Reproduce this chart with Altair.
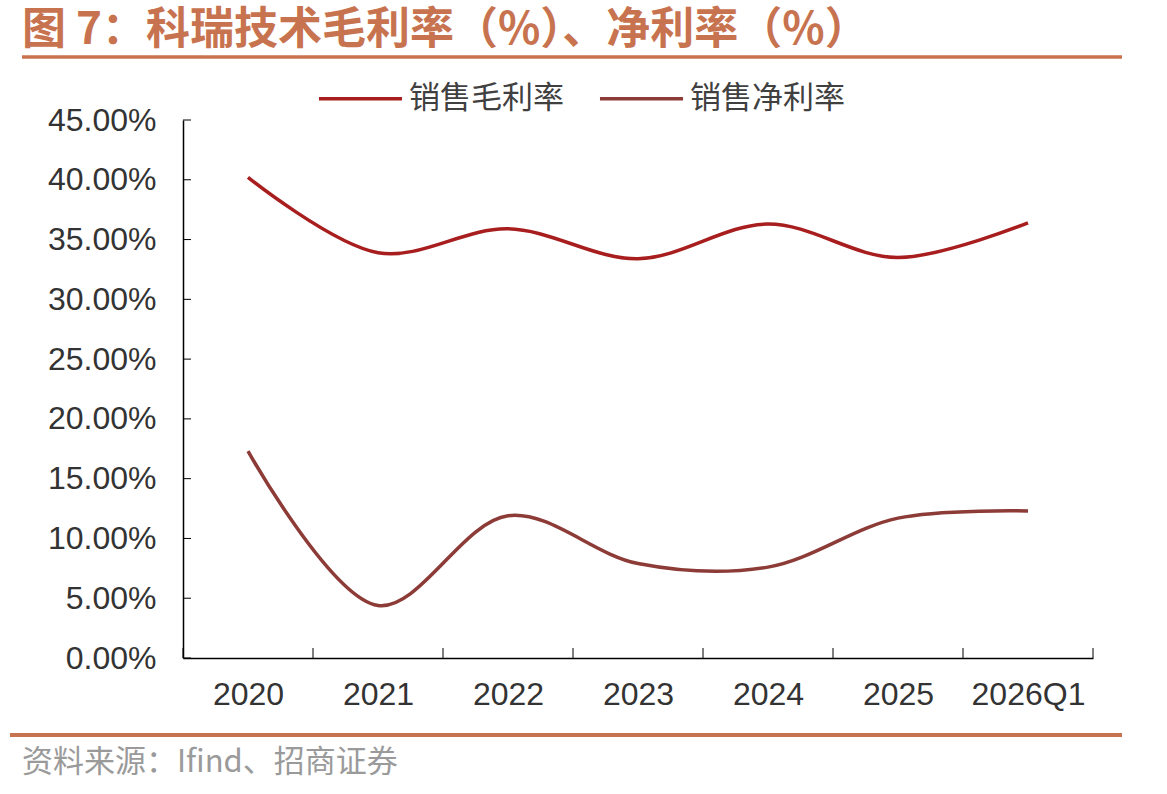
import altair as alt
import pandas as pd

categories = ["2020", "2021", "2022", "2023", "2024", "2025", "2026Q1"]
gross_margin = [40.2, 33.9, 35.9, 33.4, 36.3, 33.5, 36.4]
net_margin = [17.3, 4.4, 11.9, 7.9, 7.6, 11.7, 12.3]
series_names = ["销售毛利率", "销售净利率"]
series_colors = ["#A81E1F", "#8C3B37"]
y_ticks = [0, 5, 10, 15, 20, 25, 30, 35, 40, 45]
title_text = "图 7：科瑞技术毛利率（%）、净利率（%）"
source_text = "资料来源：Ifind、招商证券"

W, H = 910, 538
ACCENT = "#C8734F"
NUM_FONT = "Liberation Sans, Arial"
CJK_FONT = "Noto Sans CJK SC"

rows = []
for i, c in enumerate(categories):
    rows.append({"idx": i, "cat": c, "series": series_names[0], "value": gross_margin[i] / 100})
    rows.append({"idx": i, "cat": c, "series": series_names[1], "value": net_margin[i] / 100})
df = pd.DataFrame(rows)

x_scale = alt.Scale(domain=[-0.5, len(categories) - 0.5], nice=False, zero=False)
y_scale = alt.Scale(domain=[0, 0.45], nice=False)
label_expr = "[" + ",".join(f"'{c}'" for c in categories) + "][datum.value]"

x_axis = alt.Axis(
    values=list(range(len(categories))), labelExpr=label_expr, ticks=False, grid=False,
    title=None, labelFontSize=32, labelFont=NUM_FONT, labelColor="#333333",
    labelPadding=21, domainColor="black", domainWidth=1.5)
y_axis = alt.Axis(
    values=[v / 100 for v in y_ticks], format=".2%", ticks=False, grid=False,
    title=None, labelFontSize=32, labelFont=NUM_FONT, labelColor="#333333",
    labelPadding=27, domainColor="black", domainWidth=1.5)

lines = alt.Chart(df).mark_line(interpolate="catmull-rom", strokeWidth=3.5).encode(
    x=alt.X("idx:Q", scale=x_scale, axis=x_axis),
    y=alt.Y("value:Q", scale=y_scale, axis=y_axis),
    color=alt.Color("series:N", scale=alt.Scale(domain=series_names, range=series_colors),
                    legend=alt.Legend(orient="none", legendX=134, legendY=-65, direction="horizontal",
                                      title=None, symbolType="stroke", symbolSize=6900,
                                      symbolStrokeWidth=3.5, labelFontSize=31, labelFont=CJK_FONT,
                                      labelColor="#404040", labelOffset=5, columnPadding=28)),
)

ytick_df = pd.DataFrame({"value": [v / 100 for v in y_ticks]})
yticks = alt.Chart(ytick_df).mark_rule(color="black", strokeWidth=1).encode(
    y=alt.Y("value:Q", scale=y_scale, axis=y_axis), x=alt.value(0), x2=alt.value(8))

xtick_df = pd.DataFrame({"idx": [i - 0.5 for i in range(len(categories) + 1)]})
xticks = alt.Chart(xtick_df).mark_rule(color="black", strokeWidth=1).encode(
    x=alt.X("idx:Q", scale=x_scale, axis=x_axis), y=alt.value(H), y2=alt.value(H - 10))

one = pd.DataFrame({"t": [title_text]})
title = alt.Chart(one).mark_text(align="left", baseline="middle", fontSize=44, fontWeight="bold",
                                 font=CJK_FONT, color=ACCENT).encode(
    text="t:N", x=alt.value(-161), y=alt.value(-89))
title_line = alt.Chart(one).mark_rule(color=ACCENT, strokeWidth=3.5).encode(
    x=alt.value(-161), x2=alt.value(939), y=alt.value(-63))
foot_line = alt.Chart(one).mark_rule(color=ACCENT, strokeWidth=4).encode(
    x=alt.value(-173), x2=alt.value(939), y=alt.value(615))
src = alt.Chart(pd.DataFrame({"t": [source_text]})).mark_text(
    align="left", baseline="middle", fontSize=31, font=CJK_FONT, color="#9A9A9A").encode(
    text="t:N", x=alt.value(-161), y=alt.value(643))

chart = alt.layer(lines, yticks, xticks, title, title_line, foot_line, src).properties(
    width=W, height=H, autosize=alt.AutoSizeParams(type="none"),
    padding={"left": 183, "top": 120, "right": 74, "bottom": 136},
    background="white",
).configure_view(stroke=None)

chart.save("out.html", embed_options={"renderer": "svg", "actions": False})
